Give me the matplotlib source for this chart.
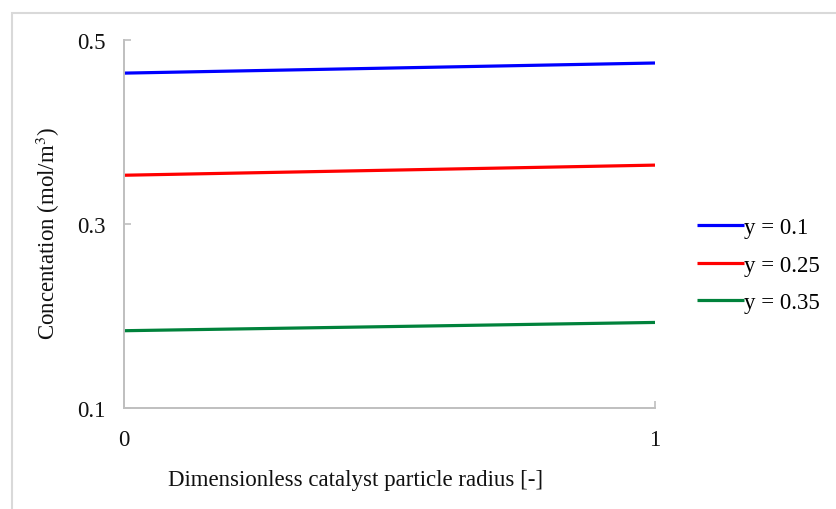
import matplotlib
matplotlib.use("Agg")
import matplotlib.pyplot as plt
from matplotlib.patches import Rectangle

# ====================================================================
# DATA
# ====================================================================
radius = [0, 1]
conc_y01 = [0.464, 0.475]
conc_y025 = [0.353, 0.364]
conc_y035 = [0.184, 0.193]

series_labels = ["y = 0.1", "y = 0.25", "y = 0.35"]
series_colors = ["#0000FF", "#FF0000", "#00823B"]

x_ticks = [0, 1]
y_ticks = [0.1, 0.3, 0.5]

plt.rcParams["font.family"] = ["Liberation Serif", "DejaVu Serif"]
plt.rcParams["mathtext.fontset"] = "stix"

W, H = 836, 510
FS = 16.5
fig = plt.figure(figsize = (W / 100, H / 100), dpi = 100)
ax = fig.add_axes([124 / W, 1 - 409 / H, (655 - 124) / W, (409 - 41) / H])

for vals, lab, col in zip([conc_y01, conc_y025, conc_y035], series_labels, series_colors):
    ax.plot(radius, vals, color = col, linewidth = 2.3, label = lab, solid_capstyle = "butt")

ax.set_xlim(0, 1)
ax.set_ylim(0.1, 0.5)
ax.set_xticks(x_ticks)
ax.set_xticklabels([str(t) for t in x_ticks])
ax.set_yticks(y_ticks)
ax.set_yticklabels([f"{t:.1f}" for t in y_ticks])

spine_col = "#BFBFBF"
for side in ["top", "right"]:
    ax.spines[side].set_visible(False)
for side in ["left", "bottom"]:
    ax.spines[side].set_color(spine_col)
    ax.spines[side].set_linewidth(1.4)

ax.tick_params(axis = "both", direction = "in", length = 5, width = 1.2,
               color = spine_col, labelsize = FS, labelcolor = "#111111")
ax.tick_params(axis = "y", pad = 13)
ax.tick_params(axis = "x", pad = 15)

ax.set_xlabel("Dimensionless catalyst particle radius [-]", fontsize = FS, color = "#111111", va = "center")
ax.xaxis.set_label_coords(0.437, -0.193)
ax.set_ylabel(r"Concentation (mol/m$^3$)", fontsize = FS, color = "#111111", va = "center")
ax.yaxis.set_label_coords(-0.143, 0.477)

ax.legend(loc = "center left", bbox_to_anchor = (697 / W, 1 - 266 / H),
          bbox_transform = fig.transFigure, frameon = False, fontsize = FS,
          handlelength = 2.05, handletextpad = 0.0, labelspacing = 0.7,
          borderpad = 0, borderaxespad = 0)

# light frame around the chart area
fig.patches.append(Rectangle((12 / W, -0.1), 1.2, 1 - 14 / H + 0.1, transform = fig.transFigure,
                             fill = False, edgecolor = "#D9D9D9", linewidth = 1.5))

fig.savefig("out.png", dpi = 100)
plt.close(fig)
